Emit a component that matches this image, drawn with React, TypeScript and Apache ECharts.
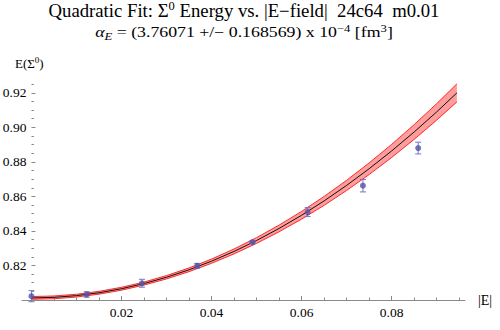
import React, { useEffect, useRef } from "react";
import * as echarts from "echarts";

// Measured energies at each field strength
const fieldValues = [0, 0.012271, 0.024543, 0.036814, 0.049087, 0.061359, 0.073631, 0.085903];
const energyValues = [0.8022, 0.8032, 0.8097, 0.8198, 0.8335, 0.8509, 0.8662, 0.888];
const energyErrors = [0.0032, 0.0016, 0.0023, 0.0014, 0.0007, 0.0026, 0.0036, 0.0034];

// Quadratic fit curve and its uncertainty band
const fitField = [
  0, 0.005, 0.01, 0.015, 0.02, 0.025, 0.03, 0.035, 0.04, 0.045, 0.05,
  0.055, 0.06, 0.065, 0.07, 0.075, 0.08, 0.085, 0.09, 0.0945,
];
const fitEnergy = [
  0.8012, 0.80153, 0.80253, 0.80419, 0.80652, 0.80951, 0.81317, 0.81749, 0.82248, 0.82813,
  0.83445, 0.84143, 0.84908, 0.85739, 0.86637, 0.87601, 0.88632, 0.89729, 0.90893, 0.91997,
];
const fitHalfWidth = [
  0.0008, 0.0008, 0.0008, 0.00081, 0.00083, 0.00088, 0.00096, 0.00107, 0.00123, 0.00142,
  0.00166, 0.00193, 0.00224, 0.00258, 0.00295, 0.00336, 0.0038, 0.00427, 0.00477, 0.00524,
];

// Tick positions
const xMajorTicks = [0.02, 0.04, 0.06, 0.08];
const xMinorTicks = [
  0.005, 0.01, 0.015, 0.025, 0.03, 0.035, 0.045, 0.05, 0.055, 0.065, 0.07, 0.075, 0.085, 0.09, 0.095,
];
const yMajorTicks = [0.82, 0.84, 0.86, 0.88, 0.9, 0.92];
const yMinorTicks = [
  0.805, 0.81, 0.815, 0.825, 0.83, 0.835, 0.845, 0.85, 0.855, 0.865, 0.87, 0.875,
  0.885, 0.89, 0.895, 0.905, 0.91, 0.915, 0.925,
];

const FAMILY = "'Liberation Serif', 'Times New Roman', serif";
const f = (size: number, italic = false) => `${italic ? "italic " : ""}${size}px ${FAMILY}`;
const AXIS_GREY = "#8a8a8a";

// Plot frame
const GRID_LEFT = 22;
const GRID_WIDTH = 443;
const X_MIN = -0.0021;
const X_MAX = 0.0963;
const Y_MIN = 0.8;
const Y_MAX = 0.928;
// the vertical axis sits at |E| = 0, slightly inside the left edge of the frame
const Y_AXIS_SHIFT = ((0 - X_MIN) / (X_MAX - X_MIN)) * GRID_WIDTH;

export default function App() {
  const ref = useRef<HTMLDivElement>(null);

  useEffect(() => {
    const chart = echarts.init(ref.current!, null, { renderer: "svg" });

    const center = fitField.map((x, i) => [x, fitEnergy[i]]);
    const upper = fitField.map((x, i) => [x, fitEnergy[i] + fitHalfWidth[i]]);
    const lower = fitField.map((x, i) => [x, fitEnergy[i] - fitHalfWidth[i]]);
    const points = fieldValues.map((x, i) => [x, energyValues[i], energyErrors[i]]);

    const tickLabel = {
      fontFamily: FAMILY,
      fontSize: 13.5,
      color: "#000",
      formatter: (v: number) => v.toFixed(2),
    };

    const yAxisBase = {
      type: "value",
      min: Y_MIN,
      max: Y_MAX,
      position: "left",
      offset: -Y_AXIS_SHIFT,
      splitLine: { show: false },
    };

    chart.setOption({
      animation: false,
      textStyle: { fontFamily: FAMILY },
      grid: {
        left: GRID_LEFT,
        top: 79,
        width: GRID_WIDTH,
        height: 221,
        containLabel: false,
        outerBoundsMode: "none",
      },
      xAxis: [
        {
          type: "value",
          min: X_MIN,
          max: X_MAX,
          position: "bottom",
          axisLine: { show: true, onZero: false, lineStyle: { color: AXIS_GREY, width: 1 } },
          axisTick: {
            show: true,
            inside: true,
            length: 4,
            customValues: xMajorTicks,
            lineStyle: { color: AXIS_GREY },
          },
          axisLabel: { ...tickLabel, margin: 5, customValues: xMajorTicks },
          splitLine: { show: false },
        },
        {
          type: "value",
          min: X_MIN,
          max: X_MAX,
          position: "bottom",
          axisLine: { show: false, onZero: false },
          axisTick: {
            show: true,
            inside: true,
            length: 2.5,
            customValues: xMinorTicks,
            lineStyle: { color: AXIS_GREY },
          },
          axisLabel: { show: false },
          splitLine: { show: false },
        },
      ],
      yAxis: [
        {
          ...yAxisBase,
          axisLine: { show: false, onZero: false },
          axisTick: {
            show: true,
            inside: true,
            length: 4,
            customValues: yMajorTicks,
            lineStyle: { color: AXIS_GREY },
          },
          axisLabel: { ...tickLabel, margin: 5, customValues: yMajorTicks },
        },
        {
          ...yAxisBase,
          axisLine: { show: false, onZero: false },
          axisTick: {
            show: true,
            inside: true,
            length: 2.5,
            customValues: yMinorTicks,
            lineStyle: { color: AXIS_GREY },
          },
          axisLabel: { show: false },
        },
      ],
      graphic: [
        {
          type: "text",
          x: 244,
          y: 0,
          scaleX: 1.04,
          style: {
            text: "{n|Quadratic Fit: Σ}{s|0}{n| Energy vs. |E−field|  24c64  m0.01}",
            align: "center",
            verticalAlign: "top",
            fill: "#000",
            font: f(18),
            rich: {
              n: { font: f(18), lineHeight: 22, verticalAlign: "middle", fill: "#000" },
              s: { font: f(12), lineHeight: 13, verticalAlign: "top", fill: "#000" },
            },
          },
        },
        {
          type: "text",
          x: 244,
          y: 23,
          scaleX: 1.27,
          style: {
            text: "{i|α}{b|E}{n| = (3.76071 +/− 0.168569) x 10}{s|−4}{n| [fm}{s|3}{n|]}",
            align: "center",
            verticalAlign: "top",
            fill: "#000",
            font: f(14),
            rich: {
              n: { font: f(14), lineHeight: 19, verticalAlign: "middle", fill: "#000" },
              i: { font: f(14, true), lineHeight: 19, verticalAlign: "middle", fill: "#000" },
              b: { font: f(10, true), lineHeight: 13, verticalAlign: "bottom", fill: "#000" },
              s: { font: f(10), lineHeight: 10, verticalAlign: "top", fill: "#000" },
            },
          },
        },
        {
          type: "text",
          x: 15,
          y: 55,
          style: {
            text: "{n|E(Σ}{s|0}{n|)}",
            align: "left",
            verticalAlign: "top",
            fill: "#000",
            font: f(13),
            rich: {
              n: { font: f(13), lineHeight: 16, verticalAlign: "middle", fill: "#000" },
              s: { font: f(9), lineHeight: 9, verticalAlign: "top", fill: "#000" },
            },
          },
        },
        {
          type: "text",
          x: 478,
          y: 300,
          style: {
            text: "|E|",
            font: f(14),
            align: "left",
            verticalAlign: "middle",
            fill: "#000",
          },
        },
      ],
      series: [
        {
          type: "custom",
          xAxisIndex: 0,
          yAxisIndex: 0,
          silent: true,
          z: 1,
          data: [[fitField[0], fitEnergy[0]]],
          renderItem: (_params: any, api: any) => {
            const pts = upper
              .map((p) => api.coord(p))
              .concat(lower.slice().reverse().map((p) => api.coord(p)));
            return {
              type: "polygon",
              shape: { points: pts },
              style: { fill: "#ff9c9c", stroke: "none" },
            };
          },
        },
        {
          type: "line",
          data: upper,
          showSymbol: false,
          silent: true,
          z: 2,
          lineStyle: { color: "#ff2a2a", width: 1 },
        },
        {
          type: "line",
          data: lower,
          showSymbol: false,
          silent: true,
          z: 2,
          lineStyle: { color: "#ff2a2a", width: 1 },
        },
        {
          type: "line",
          data: center,
          showSymbol: false,
          silent: true,
          z: 3,
          lineStyle: { color: "#111", width: 1 },
        },
        {
          type: "custom",
          xAxisIndex: 0,
          yAxisIndex: 0,
          silent: true,
          clip: false,
          z: 4,
          data: points,
          renderItem: (_params: any, api: any) => {
            const x = api.value(0);
            const y = api.value(1);
            const e = api.value(2);
            const top = api.coord([x, y + e]);
            const bot = api.coord([x, y - e]);
            const cap = 3;
            const stroke = { stroke: "#7474c0", lineWidth: 1 };
            return {
              type: "group",
              children: [
                { type: "line", shape: { x1: top[0], y1: top[1], x2: bot[0], y2: bot[1] }, style: stroke },
                { type: "line", shape: { x1: top[0] - cap, y1: top[1], x2: top[0] + cap, y2: top[1] }, style: stroke },
                { type: "line", shape: { x1: bot[0] - cap, y1: bot[1], x2: bot[0] + cap, y2: bot[1] }, style: stroke },
              ],
            };
          },
        },
        {
          type: "scatter",
          data: points.map((p) => [p[0], p[1]]),
          symbol: "circle",
          symbolSize: 6,
          silent: true,
          z: 5,
          itemStyle: { color: "#5252a8" },
        },
      ],
    });

    return () => chart.dispose();
  }, []);

  return (
    <div
      ref={ref}
      style={{ position: "fixed", left: 0, top: 0, width: 500, height: 330, background: "#fff" }}
    />
  );
}
